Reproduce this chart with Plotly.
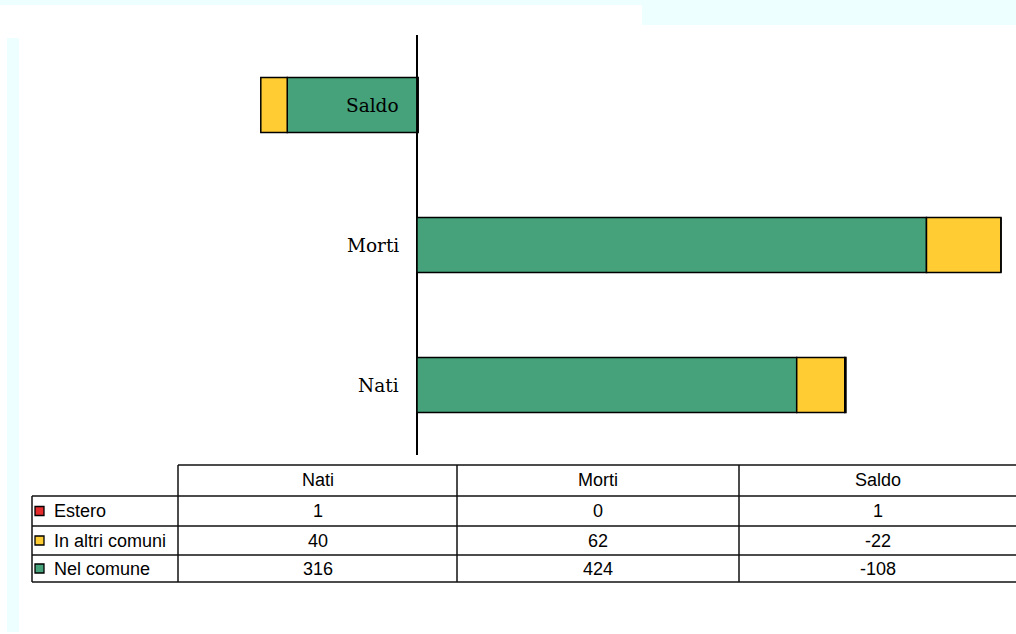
import plotly.graph_objects as go

# ---- data ----
categories = ["Nati", "Morti", "Saldo"]
series_names = ["Estero", "In altri comuni", "Nel comune"]
estero = [1, 0, 1]
altri_comuni = [40, 62, -22]
nel_comune = [316, 424, -108]

colors = {"Estero": "#E52B2B", "In altri comuni": "#FFCC33", "Nel comune": "#45A27A"}
values = {"Estero": estero, "In altri comuni": altri_comuni, "Nel comune": nel_comune}

W, H = 1016, 634


def px(x):
    return x / W


def py(y):
    return 1 - y / H


# plot area geometry (pixels)
L, R = 180, 1010
TOP, BOT = 35, 455
ZERO_PX = 417
SCALE = 1.2016  # px per unit
x_range = [(L - ZERO_PX) / SCALE, (R - ZERO_PX) / SCALE]

fig = go.Figure()
for name in ["Nel comune", "In altri comuni", "Estero"]:
    fig.add_trace(go.Bar(
        y=categories, x=values[name], name=name, orientation="h",
        width=0.393,
        marker=dict(color=colors[name], line=dict(color="black", width=1.5)),
        showlegend=False,
    ))

annotations = []
# category labels at the zero line
for c in categories:
    annotations.append(dict(
        x=0, y=c, xref="x", yref="y", text=c, showarrow=False,
        xanchor="right", yanchor="middle", xshift=-16,
        font=dict(family="DejaVu Serif", size=18.5, color="black"),
    ))

# ---- data table below ----
col_edges = [32, 178, 457, 739, 1016]
row_edges = [465, 496, 526, 555, 582]
shapes = []

# background decorations
bg = "#EEFFFF"
shapes += [
    dict(type="rect", xref="paper", yref="paper", x0=px(0), x1=px(1016), y0=py(0), y1=py(5),
         fillcolor=bg, line=dict(width=0), layer="below"),
    dict(type="rect", xref="paper", yref="paper", x0=px(642), x1=px(1016), y0=py(0), y1=py(25),
         fillcolor=bg, line=dict(width=0), layer="below"),
    dict(type="rect", xref="paper", yref="paper", x0=px(7), x1=px(19), y0=py(38), y1=py(632),
         fillcolor=bg, line=dict(width=0), layer="below"),
]

lc = dict(color="#111111", width=1.5)


def hline(x0, x1, y):
    shapes.append(dict(type="line", xref="paper", yref="paper",
                       x0=px(x0), x1=px(x1), y0=py(y), y1=py(y), line=lc))


def vline(x, y0, y1):
    shapes.append(dict(type="line", xref="paper", yref="paper",
                       x0=px(x), x1=px(x), y0=py(y0), y1=py(y1), line=lc))


hline(col_edges[1], W, row_edges[0])
for y in row_edges[1:]:
    hline(col_edges[0], W, y)
vline(col_edges[0], row_edges[1], row_edges[-1])
for x in col_edges[1:4]:
    vline(x, row_edges[0], row_edges[-1])

tfont = dict(family="Liberation Sans", size=18, color="black")
# header
for i, c in enumerate(categories):
    xc = (col_edges[i + 1] + col_edges[i + 2]) / 2
    yc = (row_edges[0] + row_edges[1]) / 2
    annotations.append(dict(x=px(xc), y=py(yc), xref="paper", yref="paper", text=c,
                            showarrow=False, xanchor="center", yanchor="middle", font=tfont))
# rows
for r, name in enumerate(series_names):
    yc = (row_edges[r + 1] + row_edges[r + 2]) / 2
    shapes.append(dict(type="rect", xref="paper", yref="paper",
                       x0=px(35), x1=px(44), y0=py(yc - 4.5), y1=py(yc + 4.5),
                       fillcolor=colors[name], line=dict(color="black", width=1.3)))
    annotations.append(dict(x=px(52), y=py(yc), xref="paper", yref="paper", text=name,
                            showarrow=False, xanchor="left", yanchor="middle", font=tfont))
    for i, v in enumerate(values[name]):
        xc = (col_edges[i + 1] + col_edges[i + 2]) / 2
        annotations.append(dict(x=px(xc), y=py(yc), xref="paper", yref="paper", text=str(v),
                                showarrow=False, xanchor="center", yanchor="middle", font=tfont))

fig.update_layout(
    width=W, height=H,
    margin=dict(l=0, r=0, t=0, b=0),
    paper_bgcolor="white", plot_bgcolor="white",
    barmode="relative",
    xaxis=dict(domain=[px(L), px(R)], range=x_range, showgrid=False, showticklabels=False,
               ticks="", zeroline=True, zerolinecolor="black", zerolinewidth=2,
               showline=False, fixedrange=True),
    yaxis=dict(domain=[py(BOT), py(TOP)], range=[-0.5, 2.5], type="category",
               categoryorder="array", categoryarray=categories,
               showgrid=False, showticklabels=False, ticks="", showline=False, fixedrange=True),
    shapes=shapes,
    annotations=annotations,
    font=dict(family="Liberation Sans"),
)

fig.write_html("out.html", config={"displayModeBar": False},
               post_script="document.body.style.margin='0';document.body.style.overflow='hidden';")
